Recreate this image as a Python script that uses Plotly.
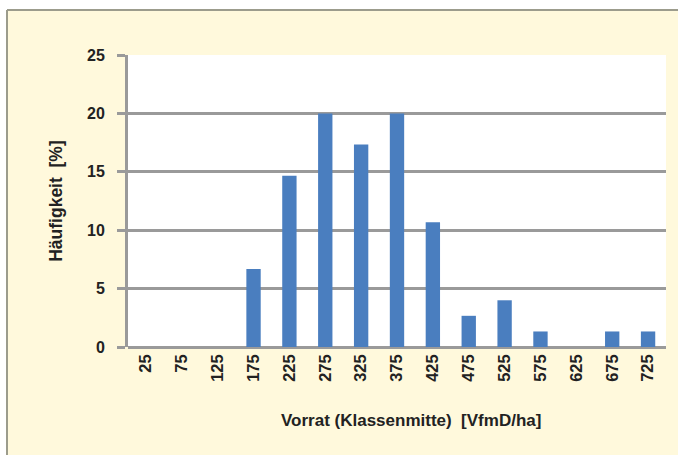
import plotly.graph_objects as go

categories = ["25", "75", "125", "175", "225", "275", "325", "375", "425", "475",
              "525", "575", "625", "675", "725"]
values = [0, 0, 0, 6.67, 14.67, 20, 17.33, 20, 10.67, 2.67, 4.0, 1.33, 0, 1.33, 1.33]
y_ticks = [0, 5, 10, 15, 20, 25]
x_title = "Vorrat (Klassenmitte)  [VfmD/ha]"
y_title = "Häufigkeit  [%]"

TICK_FONT = "Liberation Sans, Arial, sans-serif"
TITLE_FONT = "Liberation Sans Narrow, Arial Narrow, sans-serif"
GRID = "#9A9A9A"
TXT = "#222222"

fig = go.Figure(go.Bar(x=categories, y=values, marker_color="#4A7EBF",
                       marker_line_width=0))

W, H = 678, 455
L, T, B = 128, 55, 108
R = W - L - 538
pw, ph = W - L - R, H - T - B

def px_x(px):
    return (px - L) / pw

def px_y(py):
    return (H - B - py) / ph

fig.update_layout(
    width=W, height=H,
    margin=dict(l=L, r=R, t=T, b=B),
    paper_bgcolor="#FFF9DC",
    plot_bgcolor="white",
    bargap=0.6,
    showlegend=False,
    font=dict(family=TICK_FONT, size=14, color=TXT),
    xaxis=dict(
        type="category",
        tickangle=-90,
        tickfont=dict(family=TICK_FONT, size=16.5, color=TXT, weight="bold"),
        ticklabelstandoff=3,
        showline=False,
        ticks="",
    ),
    yaxis=dict(
        range=[0, 25],
        tickvals=y_ticks,
        showgrid=True, gridcolor=GRID, gridwidth=2.5,
        showline=True, linecolor=GRID, linewidth=3,
        ticks="outside", ticklen=8, tickcolor=GRID, tickwidth=2.5,
        ticklabelstandoff=9,
        zeroline=True, zerolinecolor=GRID, zerolinewidth=3,
        tickfont=dict(family=TICK_FONT, size=16, color=TXT, weight="bold"),
        title=dict(text="<b>" + y_title + "</b>", standoff=20,
                   font=dict(family=TITLE_FONT, size=17.5, color=TXT)),
    ),
    annotations=[
        dict(text="<b>" + x_title + "</b>", xref="paper", yref="paper",
             x=px_x(411), y=px_y(420), xanchor="center", yanchor="middle",
             showarrow=False, font=dict(family=TITLE_FONT, size=17, color=TXT)),
    ],
    shapes=[
        # white strips outside the cream panel (top and left)
        dict(type="rect", xref="paper", yref="paper", layer="above",
             x0=px_x(-5), x1=px_x(W + 5), y0=px_y(10), y1=px_y(-5),
             fillcolor="white", line_width=0),
        dict(type="rect", xref="paper", yref="paper", layer="above",
             x0=px_x(-5), x1=px_x(7), y0=px_y(H + 5), y1=px_y(-5),
             fillcolor="white", line_width=0),
        # panel border top and left
        dict(type="line", xref="paper", yref="paper", layer="above",
             x0=px_x(7), x1=px_x(W + 5), y0=px_y(10), y1=px_y(10),
             line=dict(color="#9C9C8C", width=2)),
        dict(type="line", xref="paper", yref="paper", layer="above",
             x0=px_x(7), x1=px_x(7), y0=px_y(10), y1=px_y(H + 5),
             line=dict(color="#9C9C8C", width=2)),
    ],
)

fig.write_html(
    "out.html",
    config={"displayModeBar": False},
    post_script="document.body.style.margin='0';document.body.style.overflow='hidden';",
)
